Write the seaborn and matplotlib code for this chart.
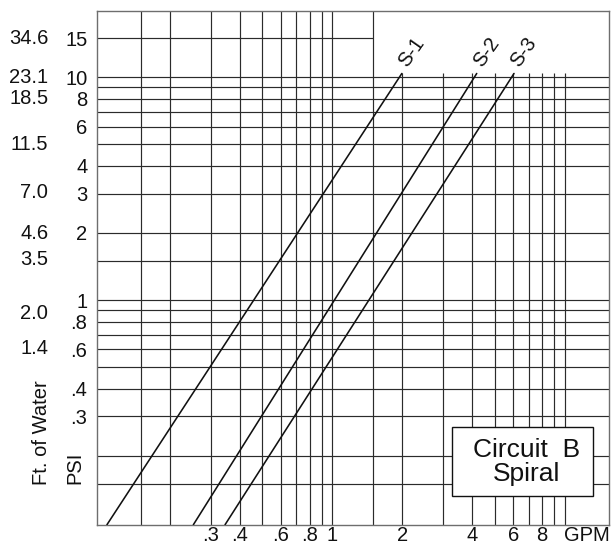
import numpy as np
import pandas as pd
import matplotlib
matplotlib.use("Agg")
import matplotlib.pyplot as plt
from matplotlib.patches import Rectangle
import seaborn as sns

# ---- data (straight lines on log-log paper) ----
series = ["S-1", "S-2", "S-3"]
s1_gpm = [0.107, 1.99]
s1_psi = [0.098, 10.4]
s2_gpm = [0.252, 4.18]
s2_psi = [0.098, 10.4]
s3_gpm = [0.345, 6.05]
s3_psi = [0.098, 10.4]

psi_ticks = [15, 10, 8, 6, 4, 3, 2, 1, 0.8, 0.6, 0.4, 0.3]
psi_labels = ["15", "10", "8", "6", "4", "3", "2", "1", ".8", ".6", ".4", ".3"]
ft_labels = ["34.6", "23.1", "18.5", "11.5", "7.0", "4.6", "3.5", "2.0", "1.4"]
gpm_ticks = [0.3, 0.4, 0.6, 0.8, 1, 2, 4, 6, 8]
gpm_labels = [".3", ".4", ".6", ".8", "1", "2", "4", "6", "8"]

# grid structure
vgrid_full = [0.15, 0.2, 0.3, 0.4, 0.5, 0.6, 0.7, 0.8, 0.9, 1, 1.5]
vgrid_short = [2, 3, 4, 5, 6, 7, 8, 9, 10]
hgrid = [0.15, 0.2, 0.3, 0.4, 0.5, 0.6, 0.7, 0.8, 0.9, 1, 1.5, 2, 3, 4, 5, 6, 7, 8, 9, 10]
hgrid_short = [15]
short_top = 10.4
PSI_PER_FT = 1 / 2.31

df = pd.concat([
    pd.DataFrame({"gpm": s1_gpm, "psi": s1_psi, "series": "S-1"}),
    pd.DataFrame({"gpm": s2_gpm, "psi": s2_psi, "series": "S-2"}),
    pd.DataFrame({"gpm": s3_gpm, "psi": s3_psi, "series": "S-3"}),
])

sns.set_theme(style="white")
plt.rcParams["font.family"] = ["Liberation Sans", "DejaVu Sans"]

FS = 14.5
fig = plt.figure(figsize=(6.13, 5.5), dpi=100)
ax = fig.add_axes([0.1578, 0.04545, 0.8362, 0.9351])
ax.set_xscale("log")
ax.set_yscale("log")
xmin, xmax = 0.0967, 15.56
ymin, ymax = 0.0977, 19.9
ax.set_xlim(xmin, xmax)
ax.set_ylim(ymin, ymax)

gc = "#2b2b2b"
glw = 0.85
ax.vlines(vgrid_full, ymin, ymax, color=gc, lw=glw, zorder=1)
ax.vlines(vgrid_short, ymin, short_top, color=gc, lw=glw, zorder=1)
ax.hlines(hgrid, xmin, xmax, color=gc, lw=glw, zorder=1)
ax.hlines(hgrid_short, xmin, 1.5, color=gc, lw=glw, zorder=1)

sns.lineplot(data=df, x="gpm", y="psi", hue="series", palette=["#111111"] * 3,
             legend=False, ax=ax, lw=1.15, zorder=3, sort=True, estimator=None)
ax.set_xlabel("")
ax.set_ylabel("")

# series labels at line tops
for name, g in df.groupby("series"):
    x_end, y_end = g["gpm"].iloc[-1], g["psi"].iloc[-1]
    ax.annotate(name, xy=(x_end, y_end), xytext=(7, 15.5), textcoords="offset points",
                rotation=55, ha="center", va="center", fontsize=FS, color="#111111")

ax.set_yticks(psi_ticks)
ax.set_yticklabels(psi_labels)
ax.set_xticks(gpm_ticks)
ax.set_xticklabels(gpm_labels)
ax.minorticks_off()
ax.tick_params(axis="y", length=0, pad=6.8, labelsize=FS, labelcolor="#111111")
ax.tick_params(axis="x", length=0, pad=1.0, labelsize=FS, labelcolor="#111111")

for sp in ax.spines.values():
    sp.set_color("#6e6e6e")
    sp.set_linewidth(1.0)

# feet of water column
for lab in ft_labels:
    ax.text(-0.0944, float(lab) * PSI_PER_FT, lab, transform=ax.get_yaxis_transform(),
            ha="right", va="center", fontsize=FS, color="#111111")

ax.text(-0.1077, 0.1789, "Ft. of Water", transform=ax.transAxes, rotation=90,
        ha="center", va="center", fontsize=FS, color="#111111")
ax.text(-0.0423, 0.1118, "PSI", transform=ax.transAxes, rotation=90,
        ha="center", va="center", fontsize=FS, color="#111111")
ax.annotate("GPM", xy=(1.0, 0.0), xycoords="axes fraction", xytext=(0, -1.0),
            textcoords="offset points", ha="right", va="top", fontsize=FS, color="#111111")

# title box
ax.add_patch(Rectangle((0.6937, 0.0564), 0.9676 - 0.6937, 0.19 - 0.0564,
                       transform=ax.transAxes, facecolor="white", edgecolor="#111111",
                       lw=1.0, zorder=5))
ax.text(0.8385, 0.1328, "Circuit  B", transform=ax.transAxes, ha="center", va="baseline",
        fontsize=19, color="#111111", zorder=6)
ax.text(0.8385, 0.0861, "Spiral", transform=ax.transAxes, ha="center", va="baseline",
        fontsize=19, color="#111111", zorder=6)

fig.savefig("out.png", dpi=100)
